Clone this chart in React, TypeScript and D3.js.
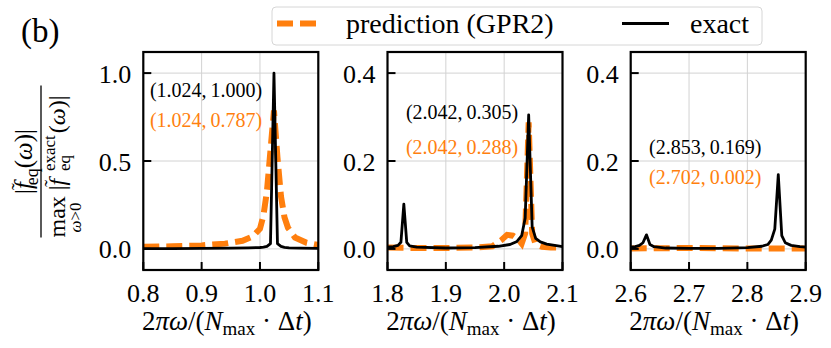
import React, { useEffect, useRef } from "react";
import * as d3 from "d3";

const W = 831, H = 348;
const FONT = "'Liberation Serif', 'Times New Roman', serif";
const ORANGE = "#ff7f0e";

// panel ranges and ticks
const xDomains = [[0.8, 1.1], [1.8, 2.1], [2.6, 2.9]];
const xTicks = [[0.8, 0.9, 1.0, 1.1], [1.8, 1.9, 2.0, 2.1], [2.6, 2.7, 2.8, 2.9]];
const yMaxes = [1.0, 0.4, 0.4];
const yTicks = [[0, 0.5, 1.0], [0, 0.2, 0.4], [0, 0.2, 0.4]];

// exact spectrum (black)
const exact1X = [0.80, 0.85, 0.90, 0.95, 0.98, 1.000, 1.006, 1.012, 1.018, 1.024, 1.030, 1.036, 1.042, 1.05, 1.07, 1.10];
const exact1Y = [0.002, 0.002, 0.003, 0.004, 0.006, 0.008, 0.010, 0.014, 0.030, 1.000, 0.030, 0.014, 0.009, 0.006, 0.004, 0.003];
const exact2X = [1.80, 1.81, 1.818, 1.823, 1.828, 1.833, 1.838, 1.85, 1.90, 1.95, 1.99, 2.010, 2.022, 2.030, 2.036, 2.042, 2.048, 2.054, 2.062, 2.073, 2.10];
const exact2Y = [0.004, 0.005, 0.008, 0.015, 0.102, 0.015, 0.007, 0.004, 0.002, 0.003, 0.006, 0.010, 0.017, 0.03, 0.07, 0.305, 0.05, 0.024, 0.016, 0.011, 0.005];
const exact3X = [2.60, 2.608, 2.615, 2.621, 2.627, 2.633, 2.64, 2.66, 2.70, 2.75, 2.80, 2.825, 2.835, 2.841, 2.847, 2.853, 2.859, 2.865, 2.875, 2.89, 2.90];
const exact3Y = [0.004, 0.005, 0.008, 0.014, 0.032, 0.010, 0.005, 0.002, 0.001, 0.001, 0.003, 0.006, 0.010, 0.02, 0.045, 0.169, 0.03, 0.014, 0.008, 0.005, 0.004];

// prediction GPR2 (orange dashed)
const pred1X = [0.80, 0.85, 0.90, 0.94, 0.97, 0.988, 1.000, 1.006, 1.012, 1.018, 1.024, 1.030, 1.036, 1.042, 1.048, 1.06, 1.08, 1.10];
const pred1Y = [0.012, 0.015, 0.020, 0.030, 0.046, 0.072, 0.115, 0.19, 0.33, 0.56, 0.787, 0.52, 0.30, 0.18, 0.12, 0.065, 0.035, 0.022];
const pred2X = [1.80, 1.85, 1.90, 1.95, 1.98, 1.995, 2.005, 2.015, 2.024, 2.030, 2.036, 2.042, 2.048, 2.054, 2.065, 2.08, 2.10];
const pred2Y = [0.003, 0.002, 0.002, 0.003, 0.006, 0.02, 0.032, 0.03, 0.022, 0.012, 0.035, 0.288, 0.035, 0.01, 0.005, 0.003, 0.003];
const pred3X = [2.60, 2.65, 2.702, 2.75, 2.80, 2.85, 2.90];
const pred3Y = [0.001, 0.0015, 0.002, 0.0015, 0.001, 0.001, 0.001];

const exactX = [exact1X, exact2X, exact3X];
const exactY = [exact1Y, exact2Y, exact3Y];
const predX = [pred1X, pred2X, pred3X];
const predY = [pred1Y, pred2Y, pred3Y];

// peak labels
const exactPeaks = ["(1.024,\u20091.000)", "(2.042,\u20090.305)", "(2.853,\u20090.169)"];
const predPeaks = ["(1.024,\u20090.787)", "(2.042,\u20090.288)", "(2.702,\u20090.002)"];

const legendLabels = ["prediction (GPR2)", "exact"];

// layout
const panelLeft = [143.3, 387.5, 630.7];
const panelW = 175, top = 52, bottom = 270;
const notePos = [[0.038, 0.826, 0.688], [0.105, 0.726, 0.566], [0.105, 0.566, 0.425]];

const draw = (node: SVGSVGElement | null) => {
  if (!node) return;
  const svg = d3.select(node);
  svg.selectAll("*").remove();
  svg.append("rect").attr("width", W).attr("height", H).attr("fill", "white");

  const fmt = d3.format(".1f");

  xDomains.forEach((dom, i) => {
    const left = panelLeft[i];
    const x = d3.scaleLinear().domain(dom).range([left, left + panelW]);
    const y = d3.scaleLinear().domain([-0.12 * yMaxes[i], 1.12 * yMaxes[i]]).range([bottom, top]);
    const g = svg.append("g");

    const clipId = `clip${i}`;
    g.append("clipPath").attr("id", clipId)
      .append("rect").attr("x", left).attr("y", top).attr("width", panelW).attr("height", bottom - top);

    // grid
    g.selectAll(".gx").data(xTicks[i]).join("line")
      .attr("x1", d => x(d)).attr("x2", d => x(d)).attr("y1", top).attr("y2", bottom)
      .attr("stroke", "#d2d2d2").attr("stroke-width", 1);
    g.selectAll(".gy").data(yTicks[i]).join("line")
      .attr("x1", left).attr("x2", left + panelW).attr("y1", d => y(d)).attr("y2", d => y(d))
      .attr("stroke", "#d2d2d2").attr("stroke-width", 1);

    const line = d3.line<number>().x((d, k) => x(predX[i][k])).y(d => y(d));
    g.append("path").attr("clip-path", `url(#${clipId})`)
      .attr("d", line(predY[i]))
      .attr("fill", "none").attr("stroke", ORANGE).attr("stroke-width", 6)
      .attr("stroke-dasharray", "16 7");

    const lineE = d3.line<number>().x((d, k) => x(exactX[i][k])).y(d => y(d));
    g.append("path").attr("clip-path", `url(#${clipId})`)
      .attr("d", lineE(exactY[i]))
      .attr("fill", "none").attr("stroke", "black").attr("stroke-width", 2.8)
      .attr("stroke-linejoin", "round");

    // spines
    g.append("rect").attr("x", left).attr("y", top).attr("width", panelW).attr("height", bottom - top)
      .attr("fill", "none").attr("stroke", "black").attr("stroke-width", 2.2);

    // ticks (inward)
    g.selectAll(".tx").data(xTicks[i]).join("line")
      .attr("x1", d => x(d)).attr("x2", d => x(d)).attr("y1", bottom).attr("y2", bottom - 8)
      .attr("stroke", "black").attr("stroke-width", 2);
    g.selectAll(".ty").data(yTicks[i]).join("line")
      .attr("x1", left).attr("x2", left + 8).attr("y1", d => y(d)).attr("y2", d => y(d))
      .attr("stroke", "black").attr("stroke-width", 2);

    g.selectAll(".lx").data(xTicks[i]).join("text")
      .attr("x", d => x(d)).attr("y", 302).attr("text-anchor", "middle")
      .attr("font-family", FONT).attr("font-size", 26).text(d => fmt(d));
    g.selectAll(".ly").data(yTicks[i]).join("text")
      .attr("x", left - 12).attr("y", d => y(d) + 9.5).attr("text-anchor", "end")
      .attr("font-family", FONT).attr("font-size", 26).text(d => fmt(d));

    // x label
    const t = g.append("text").attr("x", left + panelW / 2 - 4).attr("y", 330)
      .attr("text-anchor", "middle").attr("font-family", FONT).attr("font-size", 27);
    t.append("tspan").text("2");
    t.append("tspan").attr("font-style", "italic").text("πω");
    t.append("tspan").text("/(");
    t.append("tspan").attr("font-style", "italic").text("N");
    t.append("tspan").attr("font-size", 19).attr("dy", 5).text("max");
    t.append("tspan").attr("dy", -5).text(" · Δ");
    t.append("tspan").attr("font-style", "italic").text("t");
    t.append("tspan").text(")");

    // peak annotations
    const [fx, fy1, fy2] = notePos[i];
    const ax = left + fx * panelW;
    g.append("text").attr("x", ax).attr("y", bottom - fy1 * (bottom - top) + 7)
      .attr("font-family", FONT).attr("font-size", 20).attr("fill", "black").text(exactPeaks[i]);
    g.append("text").attr("x", ax).attr("y", bottom - fy2 * (bottom - top) + 7)
      .attr("font-family", FONT).attr("font-size", 20).attr("fill", ORANGE).text(predPeaks[i]);
  });

  // legend
  const lg = svg.append("g");
  lg.append("rect").attr("x", 272).attr("y", 7).attr("width", 490).attr("height", 38).attr("rx", 4)
    .attr("fill", "white").attr("stroke", "#d6d6d6").attr("stroke-width", 1);
  lg.append("line").attr("x1", 277).attr("x2", 317).attr("y1", 23.5).attr("y2", 23.5)
    .attr("stroke", ORANGE).attr("stroke-width", 6).attr("stroke-dasharray", "16 7");
  lg.append("text").attr("x", 346).attr("y", 33).attr("font-family", FONT).attr("font-size", 28).text(legendLabels[0]);
  lg.append("line").attr("x1", 622).attr("x2", 669).attr("y1", 23.5).attr("y2", 23.5)
    .attr("stroke", "black").attr("stroke-width", 2.8);
  lg.append("text").attr("x", 690).attr("y", 33).attr("font-family", FONT).attr("font-size", 28).text(legendLabels[1]);

  // panel tag
  svg.append("text").attr("x", 21).attr("y", 42).attr("font-family", FONT).attr("font-size", 33).text("(b)");

  // y label: rotated fraction
  const yl = svg.append("g").attr("transform", "translate(41,161.5) rotate(-90)")
    .attr("font-family", FONT);
  yl.append("line").attr("x1", -76).attr("x2", 76).attr("stroke", "black").attr("stroke-width", 1.3);

  const num = yl.append("text").attr("x", 0).attr("y", -9).attr("text-anchor", "middle").attr("font-size", 25);
  num.append("tspan").text("|");
  num.append("tspan").attr("font-style", "italic").text("f");
  num.append("tspan").attr("dx", -8).attr("dy", -6).attr("font-size", 20).text("˜");
  num.append("tspan").attr("dx", -2).attr("dy", 12).attr("font-size", 18).text("eq");
  num.append("tspan").attr("dy", -6).text("(");
  num.append("tspan").attr("font-style", "italic").text("ω");
  num.append("tspan").text(")|");

  yl.append("text").attr("x", -56).attr("y", 40).attr("text-anchor", "middle").attr("font-size", 17)
    .append("tspan").attr("font-style", "italic").text("ω").append("tspan").attr("font-style", "normal").text(">0");

  const d1 = yl.append("text").attr("x", -76).attr("y", 24).attr("font-size", 24);
  d1.append("tspan").text("max |");
  d1.append("tspan").attr("font-style", "italic").text("f");
  d1.append("tspan").attr("dx", -8).attr("dy", -6).attr("font-size", 20).text("˜");
  const len1 = (d1.node() as SVGTextElement).getComputedTextLength();
  const ux = -76 + len1 + 1;
  const sup = yl.append("text").attr("x", ux).attr("y", 14).attr("font-size", 17).text("exact");
  yl.append("text").attr("x", ux).attr("y", 29).attr("font-size", 17).text("eq");
  const supLen = (sup.node() as SVGTextElement).getComputedTextLength();
  const d2 = yl.append("text").attr("x", ux + supLen + 2).attr("y", 24).attr("font-size", 24);
  d2.append("tspan").text("(");
  d2.append("tspan").attr("font-style", "italic").text("ω");
  d2.append("tspan").text(")|");
};

export default function App() {
  const ref = useRef<SVGSVGElement>(null);
  useEffect(() => {
    draw(ref.current);
  }, []);
  return (
    <svg ref={ref} width={W} height={H}
      style={{ position: "absolute", left: 0, top: 0, display: "block" }} />
  );
}
